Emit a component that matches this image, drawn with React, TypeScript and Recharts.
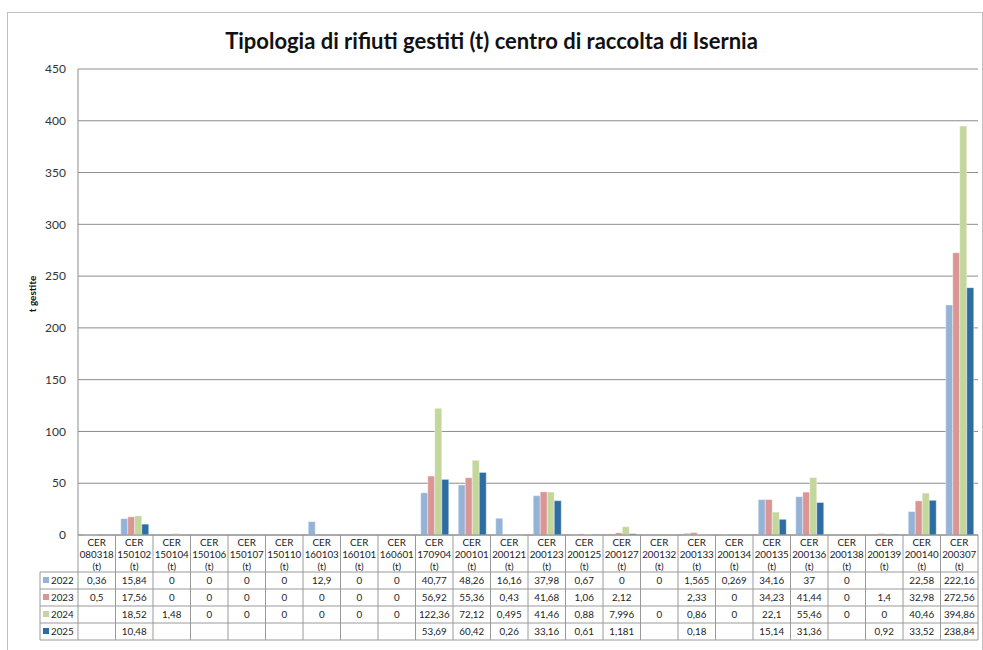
import { BarChart, Bar, XAxis, YAxis, CartesianGrid } from "recharts";

const categories = [
  "080318", "150102", "150104", "150106", "150107", "150110", "160103", "160101",
  "160601", "170904", "200101", "200121", "200123", "200125", "200127", "200132",
  "200133", "200134", "200135", "200136", "200138", "200139", "200140", "200307",
];

const years = ["2022", "2023", "2024", "2025"];

const values2022 = [0.36, 15.84, 0, 0, 0, 0, 12.9, 0, 0, 40.77, 48.26, 16.16, 37.98, 0.67, 0, 0, 1.565, 0.269, 34.16, 37, 0, null, 22.58, 222.16];
const values2023 = [0.5, 17.56, 0, 0, 0, 0, 0, 0, 0, 56.92, 55.36, 0.43, 41.68, 1.06, 2.12, null, 2.33, 0, 34.23, 41.44, 0, 1.4, 32.98, 272.56];
const values2024 = [null, 18.52, 1.48, 0, 0, 0, 0, 0, 0, 122.36, 72.12, 0.495, 41.46, 0.88, 7.996, 0, 0.86, 0, 22.1, 55.46, 0, 0, 40.46, 394.86];
const values2025 = [null, 10.48, null, null, null, null, null, null, null, 53.69, 60.42, 0.26, 33.16, 0.61, 1.181, null, 0.18, null, 15.14, 31.36, null, 0.92, 33.52, 238.84];

const yTicks = [0, 50, 100, 150, 200, 250, 300, 350, 400, 450];

const series = [values2022, values2023, values2024, values2025];
const colors = ["#95B3D7", "#D99694", "#C3D69B", "#2E6DA4"];

const chartData = categories.map((cat, i) => ({
  cat,
  "2022": values2022[i],
  "2023": values2023[i],
  "2024": values2024[i],
  "2025": values2025[i],
}));

const FONT = "Lato, 'Liberation Sans', sans-serif";
const TABLE_TOP = 535;
const HEADER_BOTTOM = 572;
const ROW_H = 17;
const COL_W = 37.5;
const LEGEND_LEFT = 40;
const BORDER = "#9a9a9a";

const fmt = (v: number | null) => (v === null || v === undefined ? "" : String(v).replace(".", ","));

const TableTick = (props: any) => {
  const { x, payload } = props;
  const idx = categories.indexOf(payload.value);
  const left = x - COL_W / 2;
  const right = x + COL_W / 2;
  const bottom = HEADER_BOTTOM + ROW_H * years.length;
  return (
    <g fontFamily={FONT} fontSize={9.8} fill="#222">
      <line x1={right} x2={right} y1={TABLE_TOP} y2={bottom} stroke={BORDER} />
      {idx === 0 && <line x1={left} x2={left} y1={TABLE_TOP} y2={bottom} stroke={BORDER} />}
      <text x={x} y={TABLE_TOP + 11} textAnchor="middle">CER</text>
      <text x={x} y={TABLE_TOP + 23} textAnchor="middle">{payload.value}</text>
      <text x={x} y={TABLE_TOP + 35} textAnchor="middle">(t)</text>
      {years.map((yr, r) => {
        const top = HEADER_BOTTOM + r * ROW_H;
        return (
          <g key={yr}>
            <line x1={idx === 0 ? LEGEND_LEFT : left} x2={right} y1={top} y2={top} stroke={BORDER} />
            <text x={x} y={top + 12} textAnchor="middle">{fmt(series[r][idx])}</text>
            {idx === 0 && (
              <g>
                <rect x={LEGEND_LEFT + 3} y={top + 5} width={6} height={6} fill={colors[r]} />
                <text x={LEGEND_LEFT + 11} y={top + 12}>{yr}</text>
                <line x1={LEGEND_LEFT} x2={LEGEND_LEFT} y1={top} y2={top + ROW_H} stroke={BORDER} />
              </g>
            )}
          </g>
        );
      })}
      <line x1={idx === 0 ? LEGEND_LEFT : left} x2={right} y1={bottom} y2={bottom} stroke={BORDER} />
    </g>
  );
};

export default function App() {
  return (
    <div style={{ position: "absolute", left: 0, top: 0, width: 983, height: 650, background: "#fff", overflow: "hidden" }}>
      <div
        style={{
          position: "absolute",
          left: 7,
          top: 12,
          width: 974,
          height: 660,
          border: "1px solid #c0c0c0",
        }}
      />
      <div
        style={{
          position: "absolute",
          left: 0,
          width: 983,
          top: 27,
          textAlign: "center",
          fontFamily: FONT,
          fontWeight: 700,
          fontSize: 22,
          color: "#111",
        }}
      >
        Tipologia di rifiuti gestiti (t) centro di raccolta di Isernia
      </div>
      <div style={{ position: "absolute", left: 0, top: 0 }}>
        <BarChart
          width={983}
          height={650}
          data={chartData}
          margin={{ top: 69, right: 5, left: 40, bottom: 0 }}
          barGap={0}
          barCategoryGap="14%"
        >
          <CartesianGrid vertical={false} stroke="#8c8c8c" />
          <XAxis
            dataKey="cat"
            interval={0}
            height={115}
            tickLine={false}
            axisLine={{ stroke: "#8c8c8c" }}
            tick={<TableTick />}
          />
          <YAxis
            width={38}
            domain={[0, 450]}
            ticks={yTicks}
            tickLine={false}
            tickMargin={6}
            axisLine={{ stroke: "#8c8c8c" }}
            tick={{ fontSize: 12, fill: "#333", fontFamily: FONT }}
            label={{
              value: "t gestite",
              angle: -90,
              position: "insideLeft",
              offset: 0,
              dx: -8,
              dy: -8,
              style: { fontSize: 10, fontWeight: 700, fontFamily: FONT, fill: "#111", textAnchor: "middle" },
            }}
          />
          {years.map((yr, i) => (
            <Bar key={yr} dataKey={yr} fill={colors[i]} stroke="#ffffff" strokeWidth={0.4} isAnimationActive={false} />
          ))}
        </BarChart>
      </div>
    </div>
  );
}
